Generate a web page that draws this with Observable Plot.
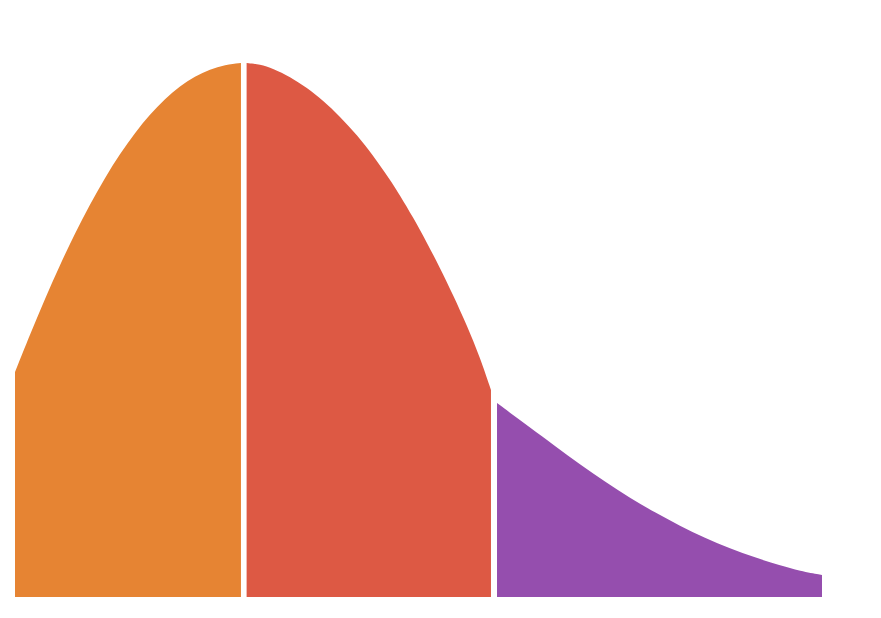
<!DOCTYPE html>
<html>
<head>
<meta charset="utf-8">
<script src="https://cdn.jsdelivr.net/npm/d3@7"></script>
<script src="https://cdn.jsdelivr.net/npm/@observablehq/plot@0.6"></script>
<style>
  html, body { margin: 0; padding: 0; background: #fff; }
</style>
</head>
<body>
<div id="chart"></div>
<script>
// Segment names and colours
const segments = ["low", "mid", "high"];
const colors = ["#E68433", "#DD5944", "#954EAE"];

// Curve samples (x: 0–100, y: density 0–100)
const lowX  = [0, 1.86, 3.72, 5.58, 7.43, 9.29, 11.15, 13.01, 14.87, 16.73, 18.59, 20.45, 22.30, 24.16, 26.02, 28.0];
const lowY  = [42.13, 49.16, 55.88, 62.21, 68.11, 73.54, 78.50, 82.98, 86.95, 90.39, 93.30, 95.67, 97.51, 98.82, 99.64, 100];

const midX  = [28.7, 30.36, 31.97, 34.08, 36.18, 38.17, 40.27, 42.38, 44.36, 46.47, 47.71, 49.32, 51.05, 52.66, 54.28, 56.01, 57.62, 58.98];
const midY  = [100, 99.74, 98.97, 97.43, 95.37, 92.99, 89.98, 86.50, 82.72, 78.15, 75.21, 71.11, 66.35, 61.63, 56.61, 50.82, 44.85, 38.76];

const highX = [59.73, 63.82, 66.91, 70.01, 73.11, 76.21, 79.31, 82.40, 85.50, 88.60, 91.70, 94.80, 97.27, 100];
const highY = [36.33, 31.74, 28.28, 24.81, 21.63, 18.54, 15.82, 13.30, 11.05, 9.08, 7.40, 5.90, 4.87, 4.12];

const build = (xs, ys, seg) => xs.map((x, i) => ({x, y: ys[i], seg}));
const data = [
  build(lowX, lowY, segments[0]),
  build(midX, midY, segments[1]),
  build(highX, highY, segments[2])
];

const chart = Plot.plot({
  width: 881,
  height: 618,
  marginLeft: 15,
  marginRight: 59,
  marginTop: 63,
  marginBottom: 21,
  x: {domain: [0, 100], axis: null},
  y: {domain: [0, 100], axis: null},
  color: {domain: segments, range: colors},
  marks: data.map(d => Plot.areaY(d, {x: "x", y: "y", fill: "seg", curve: "basis"}))
});
document.getElementById("chart").appendChild(chart);
</script>
</body>
</html>
